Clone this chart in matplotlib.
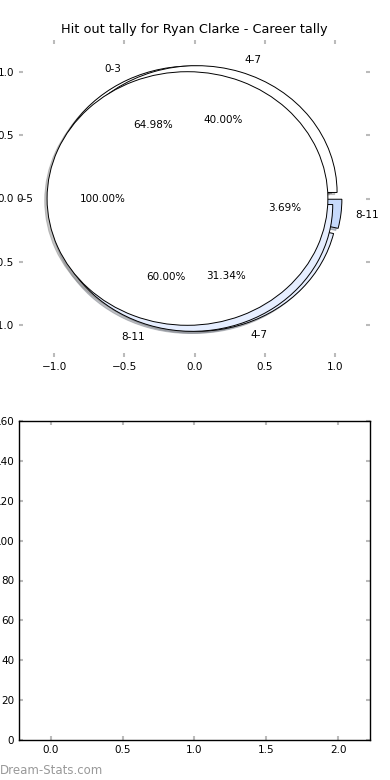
import matplotlib
matplotlib.use('Agg')
import matplotlib.pyplot as plt

# ---- data ----
outer_labels = ['0-3', '4-7', '8-11']
outer_counts = [141, 68, 8]          # 64.98%, 31.34%, 3.69%
middle_labels = ['4-7', '8-11']
middle_counts = [2, 3]               # 40%, 60%
inner_labels = ['0-5']
inner_counts = [1]                   # 100%
slice_colors = ['white', '#e6eeff', '#c6d9fb']
title = 'Hit out tally for Ryan Clarke - Career tally'
pie_ticks = [-1.0, -0.5, 0.0, 0.5, 1.0]
bar_xticks = [0.0, 0.5, 1.0, 1.5, 2.0]
bar_yticks = [0, 20, 40, 60, 80, 100, 120, 140, 160]

fig = plt.figure(figsize=(3.9, 7.8), dpi=100)
ax1 = fig.add_axes([19/390, 1-357/780, 351/390, 317/780])
ax2 = fig.add_axes([19/390, 1-740/780, 351/390, 319/780])

fs = 7.5
for counts, labels in [(outer_counts, outer_labels),
                       (middle_counts, middle_labels),
                       (inner_counts, inner_labels)]:
    n = len(counts)
    ax1.pie(counts, labels=labels, autopct='%1.2f%%', explode=[0.05]*n,
            shadow={'ox': -0.012, 'oy': -0.012, 'shade': 0.45},
            colors=slice_colors[:n],
            wedgeprops=dict(edgecolor='black', linewidth=0.7),
            textprops=dict(fontsize=fs))

ax1.set_aspect('auto')
ax1.set_frame_on(False)
ax1.set_xlim(-1.25, 1.25)
ax1.set_ylim(-1.25, 1.25)
ax1.set_xticks(pie_ticks)
ax1.set_yticks(pie_ticks)
ax1.set_title(title, fontsize=9.3, pad=5)

ax2.set_xlim(-0.2225, 2.2225)
ax2.set_ylim(0, 160)
ax2.set_xticks(bar_xticks)
ax2.set_yticks(bar_yticks)

for ax in (ax1, ax2):
    ax.tick_params(direction='in', color='#bbbbbb', length=3, width=1.5,
                   top=True, right=True, labelsize=fs)
for s in ax2.spines.values():
    s.set_color('black')
    s.set_linewidth(1.0)

fig.text(0.0, 0.004, 'Dream-Stats.com', color='#999999', fontsize=8.5,
         ha='left', va='bottom')

fig.savefig('out.png', dpi=100)
